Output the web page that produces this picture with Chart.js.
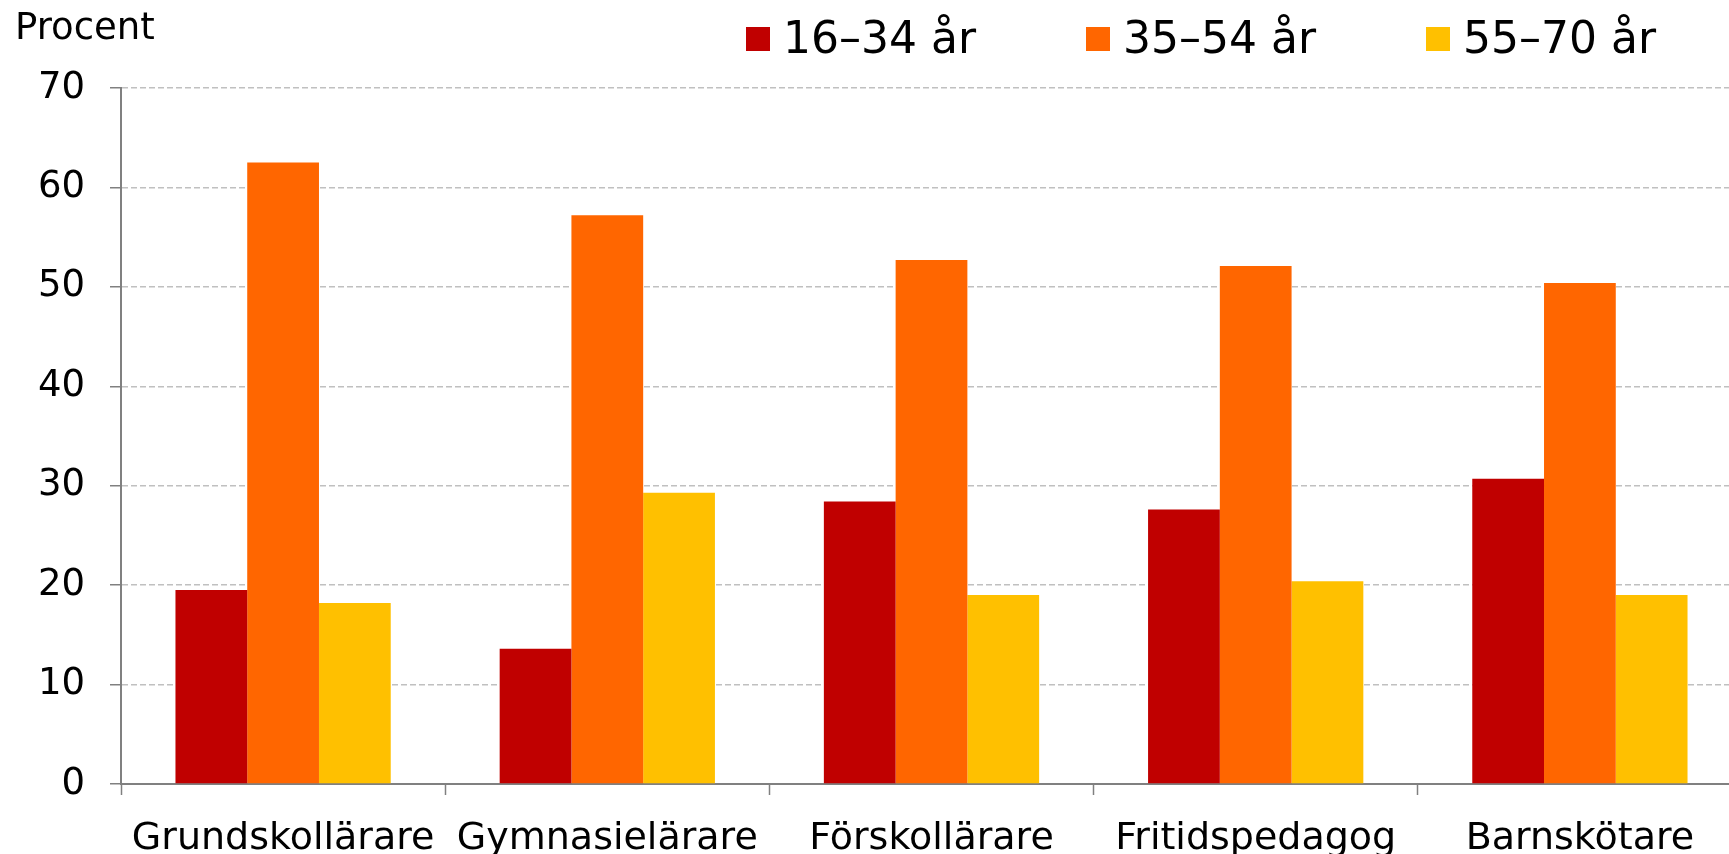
<!DOCTYPE html>
<html>
<head>
<meta charset="utf-8">
<script src="https://cdn.jsdelivr.net/npm/chart.js@4"></script>
<style>
  body { margin: 0; overflow: hidden; background: #fff; }
  #wrap { width: 1742px; height: 854px; }
</style>
</head>
<body>
<div id="wrap"><canvas id="ageChart"></canvas></div>
<script>
// yrken
var categories = ["Grundskollärare", "Gymnasielärare", "Förskollärare", "Fritidspedagog", "Barnskötare"];
var seriesNames = ["16\u201334 år", "35\u201354 år", "55\u201370 år"];
var age16_34 = [19.5, 13.6, 28.4, 27.6, 30.7];
var age35_54 = [62.5, 57.2, 52.7, 52.1, 50.4];
var age55_70 = [18.2, 29.3, 19.0, 20.4, 19.0];
var colors = ["#C00000", "#FF6600", "#FFC000"];
var yTicks = [0, 10, 20, 30, 40, 50, 60, 70];

var fontName = "'DejaVu Sans', Verdana, sans-serif";

// legend + "Procent" label drawn by hand
var legendX = [746, 1086, 1426];
var extraText = {
    id: 'extraText',
    afterDraw: function (chart) {
        var ctx = chart.ctx;
        ctx.save();
        ctx.fillStyle = '#000';
        ctx.textBaseline = 'alphabetic';
        ctx.textAlign = 'left';
        ctx.font = "37px " + fontName;
        ctx.fillText("Procent", 15, 39);

        ctx.font = "44px " + fontName;
        chart.data.datasets.forEach(function (ds, i) {
            ctx.fillStyle = ds.backgroundColor;
            ctx.fillRect(legendX[i], 27, 24, 24);
            ctx.fillStyle = '#000';
            ctx.fillText(ds.label, legendX[i] + 37, 53);
        });
        ctx.restore();
    }
};

var ctx = document.getElementById("ageChart").getContext('2d');
var myBarChart = new Chart(ctx, {
    type: 'bar',
    data: {
        labels: categories,
        datasets: [{
            label: seriesNames[0],
            data: age16_34,
            backgroundColor: colors[0]
        }, {
            label: seriesNames[1],
            data: age35_54,
            backgroundColor: colors[1]
        }, {
            label: seriesNames[2],
            data: age55_70,
            backgroundColor: colors[2]
        }]
    },
    options: {
        responsive: true,
        maintainAspectRatio: false,
        animation: false,
        categoryPercentage: 0.664,
        barPercentage: 1.0,
        layout: {
            padding: { top: 88, left: 0, right: 0, bottom: 0 }
        },
        plugins: {
            legend: { display: false },
            tooltip: { enabled: false }
        },
        scales: {
            x: {
                afterFit: function (scale) { scale.height = 70; },
                grid: {
                    offset: true,
                    drawOnChartArea: false,
                    tickLength: 11,
                    tickColor: '#808080',
                    tickWidth: 1.5
                },
                border: { color: '#808080', width: 2 },
                ticks: {
                    color: '#000',
                    padding: 21,
                    font: { family: fontName, size: 38 }
                }
            },
            y: {
                min: 0,
                max: 70,
                afterFit: function (scale) { scale.width = 121; },
                afterBuildTicks: function (scale) {
                    scale.ticks = yTicks.map(function (v) { return { value: v }; });
                },
                grid: {
                    color: '#C0C0C0',
                    lineWidth: 1.5,
                    tickLength: 11,
                    tickColor: '#808080',
                    tickWidth: 1.5
                },
                border: { color: '#808080', width: 2, dash: [6, 3] },
                ticks: {
                    color: '#000',
                    padding: 25,
                    font: { family: fontName, size: 37 }
                }
            }
        }
    },
    plugins: [extraText]
});
</script>
</body>
</html>
